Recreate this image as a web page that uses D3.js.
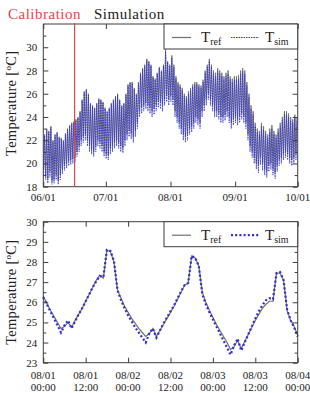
<!DOCTYPE html>
<html>
<head>
<meta charset="utf-8">
<script src="https://cdn.jsdelivr.net/npm/d3@7"></script>
<style>
  body { margin: 0; background: #fff; }
  svg { display: block; }
  svg text { font-family: "Liberation Serif", "DejaVu Serif", serif; }
</style>
</head>
<body>
<div id="chart"></div>
<script>
// top panel: daily min / max of the reference and simulated temperature, 06/01 .. 09/30
const refLow = [19.5,19.0,18.7,19.3,18.5,18.6,19.0,18.5,19.0,19.5,
  19.8,20.0,20.2,20.3,20.4,20.5,21.0,21.5,22.0,22.3,
  22.5,22.0,21.5,21.2,21.0,21.5,22.0,21.8,21.5,21.0,
  20.8,20.7,21.3,21.5,21.8,22.0,21.8,21.5,21.3,22.0,
  22.5,22.8,22.6,22.3,22.8,23.5,24.5,24.8,25.0,25.2,
  25.0,24.8,24.5,24.7,25.0,25.3,25.2,25.0,25.5,25.8,
  25.5,25.8,25.5,24.5,24.0,23.5,23.0,22.5,22.3,22.5,
  23.0,23.2,23.5,24.0,23.8,23.5,24.5,25.0,25.5,26.0,
  25.5,25.0,24.5,24.5,24.3,24.0,24.0,24.2,24.5,24.0,
  23.5,23.8,24.0,23.8,24.0,24.3,24.0,23.5,22.5,21.5,
  21.0,20.5,20.0,19.8,20.5,20.0,19.5,19.3,19.8,20.0,
  19.5,19.2,19.8,20.3,20.5,20.8,21.0,20.8,20.5,20.3,
  20.5,20.8];
const refHigh = [22.5,23.0,22.8,23.2,22.0,22.5,22.7,22.3,22.2,22.0,
  22.6,23.0,23.3,23.5,23.6,23.8,24.0,24.5,25.5,26.2,
  26.4,26.0,25.2,25.0,24.8,25.2,25.6,25.5,25.3,24.8,
  24.5,24.8,25.2,25.5,25.8,26.0,25.5,25.0,25.2,26.0,
  26.8,27.0,27.0,26.5,26.0,27.0,27.8,28.2,28.5,29.0,
  28.8,28.5,27.5,27.3,27.8,28.3,28.0,28.5,29.8,28.8,
  28.5,29.3,28.5,27.5,27.0,26.8,26.5,26.0,25.8,26.2,
  26.5,26.8,27.0,27.0,26.8,26.7,27.2,28.0,28.5,29.0,
  28.5,28.0,27.8,28.2,28.0,27.8,27.5,27.8,28.0,27.5,
  27.3,27.5,27.5,27.6,28.0,28.2,28.0,27.0,26.0,25.0,
  24.5,23.5,23.0,22.8,23.5,23.2,22.8,22.5,23.0,23.3,
  22.8,22.5,23.0,23.5,24.0,24.5,24.5,24.3,24.0,23.8,
  24.2,24.0];
const simLow = [19.0,18.6,18.3,18.8,18.2,18.3,18.6,18.2,18.6,19.1,
  19.4,19.6,19.8,19.9,20.0,20.1,20.6,21.0,21.5,21.8,
  22.0,21.5,21.0,20.8,20.6,21.0,21.5,21.3,21.0,20.6,
  20.4,20.3,20.8,21.0,21.3,21.5,21.3,21.0,20.9,21.5,
  22.0,22.3,22.1,21.8,22.3,23.0,24.0,24.3,24.5,24.7,
  24.5,24.3,24.0,24.2,24.5,24.8,24.7,24.5,25.0,25.3,
  25.0,25.3,25.0,24.0,23.5,23.0,22.5,22.0,21.8,22.0,
  22.5,22.7,23.0,23.5,23.3,23.0,24.0,24.5,25.0,25.5,
  25.0,24.5,24.0,24.0,23.8,23.5,23.5,23.7,24.0,23.5,
  23.0,23.3,23.5,23.3,23.5,23.8,23.5,23.0,22.0,21.0,
  20.5,20.0,19.5,19.2,19.9,19.4,19.0,18.8,19.3,19.5,
  19.0,18.7,19.3,19.8,20.0,20.3,20.5,20.3,20.0,19.8,
  20.0,20.3];
const simHigh = [22.4,22.9,22.7,23.1,21.9,22.4,22.6,22.2,22.1,21.9,
  22.5,22.9,23.2,23.4,23.5,23.7,23.9,24.4,25.4,26.1,
  26.3,25.9,25.1,24.9,24.7,25.1,25.5,25.4,25.2,24.7,
  24.4,24.7,25.1,25.4,25.7,25.9,25.4,24.9,25.1,25.9,
  26.7,26.9,26.9,26.4,25.9,26.9,27.7,28.1,28.4,28.9,
  28.7,28.4,27.4,27.2,27.7,28.2,27.9,28.4,29.6,28.7,
  28.4,29.1,28.3,27.3,26.8,26.6,26.3,25.8,25.6,26.0,
  26.3,26.6,26.8,26.8,26.6,26.5,27.0,27.8,28.3,28.8,
  28.3,27.7,27.5,27.9,27.7,27.5,27.2,27.5,27.7,27.2,
  27.0,27.2,27.2,27.3,27.7,27.9,27.7,26.7,25.7,24.7,
  24.2,23.2,22.7,22.5,23.2,22.9,22.5,22.2,22.7,23.0,
  22.5,22.2,22.7,23.2,23.7,24.2,24.2,24.0,23.7,23.5,
  23.9,23.7];

// bottom panel: hourly values, 08/01 00:00 .. 08/04 00:00
const refHourly = [26.3,25.95,25.6,25.3,25.0,24.7,24.8,25.0,24.75,25.1,
  25.4,25.7,26.05,26.4,26.75,27.1,27.35,27.2,28.6,28.5,
  28.0,26.6,26.2,25.8,25.5,25.2,24.95,24.7,24.5,24.3,
  24.45,24.7,24.3,24.6,24.9,25.2,25.5,25.8,26.15,26.5,
  26.85,26.95,28.3,28.2,27.8,26.5,26.0,25.6,25.25,24.9,
  24.6,24.3,24.0,23.65,23.8,24.1,23.7,24.05,24.4,24.75,
  25.1,25.4,25.7,25.9,26.05,26.05,27.45,27.45,27.1,25.6,
  25.1,24.8,24.35];
const simHourly = [26.25,25.9,25.55,25.2,24.85,24.5,24.85,25.1,24.7,25.05,
  25.4,25.7,26.05,26.4,26.75,27.05,27.3,27.25,28.6,28.55,
  28.05,26.6,26.1,25.7,25.35,25.05,24.75,24.5,24.25,24.0,
  24.45,24.7,24.25,24.6,24.95,25.25,25.55,25.85,26.2,26.55,
  26.85,26.95,28.3,28.2,27.8,26.4,25.9,25.5,25.15,24.8,
  24.45,24.1,23.75,23.4,23.85,24.2,23.6,24.0,24.4,24.8,
  25.2,25.55,25.85,26.1,26.2,26.15,27.45,27.5,27.1,25.65,
  25.1,24.75,24.3];

const topStart = new Date(Date.UTC(2011, 5, 1));
const topEnd = new Date(Date.UTC(2011, 9, 1));
const calibEnd = new Date(Date.UTC(2011, 5, 16));
const topYTicks = [18, 20, 22, 24, 26, 28, 30];
const botStart = new Date(Date.UTC(2011, 7, 1));
const botEnd = new Date(Date.UTC(2011, 7, 4));
const botYTicks = [23, 24, 25, 26, 27, 28, 29, 30];

const W = 310, H = 393;
const left = 43.3, right = 297.7;
const serif = '"Liberation Serif", "DejaVu Serif", serif';
const frameColor = '#3c3c3c';
const refColor = '#707070';
const simColor = '#2f2fd4';
const calibColor = '#e8434b';

const svg = d3.select('#chart').append('svg')
  .attr('width', W).attr('height', H)
  .attr('viewBox', `0 0 ${W} ${H}`)
  .attr('font-family', serif);

const DAY = 864e5, HOUR = 36e5;

// daily zig-zag: low in the early morning, high in the afternoon
function dailyPoints(lows, highs) {
  const pts = [];
  lows.forEach((lo, i) => {
    const t0 = topStart.getTime() + i * DAY;
    pts.push({ t: new Date(t0 + 4 * HOUR), v: lo });
    pts.push({ t: new Date(t0 + 15 * HOUR), v: highs[i] });
  });
  return pts;
}

function drawFrame(g, x, y, top, bottom, yMinor) {
  // ticks point inward on all four sides
  g.append('g').attr('transform', `translate(0,${bottom})`)
    .call(d3.axisBottom(x).tickValues(x.ticksVals).tickSize(-5).tickFormat(''))
    .call(a => a.select('.domain').remove());
  g.append('g').attr('transform', `translate(0,${top})`)
    .call(d3.axisTop(x).tickValues(x.ticksVals).tickSize(-5).tickFormat(''))
    .call(a => a.select('.domain').remove());
  g.append('g').attr('transform', `translate(${left},0)`)
    .call(d3.axisLeft(y).tickValues(yMinor).tickSize(-3).tickFormat(''))
    .call(a => a.select('.domain').remove());
  g.append('g').attr('transform', `translate(${right},0)`)
    .call(d3.axisRight(y).tickValues(yMinor).tickSize(-3).tickFormat(''))
    .call(a => a.select('.domain').remove());
  g.append('g').attr('transform', `translate(${left},0)`)
    .call(d3.axisLeft(y).tickValues(y.ticksVals).tickSize(-5).tickPadding(6).tickFormat(d3.format('d')))
    .call(a => a.select('.domain').remove())
    .attr('font-family', serif)
    .selectAll('text').attr('font-size', 11).attr('fill', '#222');
  g.append('g').attr('transform', `translate(${right},0)`)
    .call(d3.axisRight(y).tickValues(y.ticksVals).tickSize(-5).tickFormat(''))
    .call(a => a.select('.domain').remove());
  g.selectAll('.tick line').attr('stroke', frameColor);
  g.append('rect')
    .attr('x', left).attr('y', top)
    .attr('width', right - left).attr('height', bottom - top)
    .attr('fill', 'none').attr('stroke', frameColor).attr('stroke-width', 1);
}

function yLabel(cy) {
  const t = svg.append('text')
    .attr('transform', `translate(16,${cy}) rotate(-90)`)
    .attr('text-anchor', 'middle')
    .attr('font-size', 14.5).attr('letter-spacing', 0.3).attr('fill', '#222');
  t.append('tspan').text('Temperature [');
  t.append('tspan').attr('dy', -5).attr('font-size', 9).text('o');
  t.append('tspan').attr('dy', 5).text('C]');
}

function legend(top, dash, simWidth) {
  const g = svg.append('g');
  g.append('rect')
    .attr('x', 164).attr('y', top).attr('width', right - 164).attr('height', 25)
    .attr('fill', '#fff').attr('stroke', frameColor);
  const ly = top + 13.5;
  g.append('line').attr('x1', 172).attr('x2', 191).attr('y1', ly).attr('y2', ly)
    .attr('stroke', refColor).attr('stroke-width', 1.2);
  g.append('line').attr('x1', 231).attr('x2', 259).attr('y1', ly).attr('y2', ly)
    .attr('stroke', simColor).attr('stroke-width', simWidth).attr('stroke-dasharray', dash);
  const lab = (x, sub) => {
    const t = g.append('text').attr('x', x).attr('y', top + 18)
      .attr('font-size', 15).attr('fill', '#222');
    t.append('tspan').text('T');
    t.append('tspan').attr('dy', 3).attr('font-size', 10).text(sub);
  };
  lab(201, 'ref');
  lab(265, 'sim');
}

// ---------- top panel ----------
{
  const top = 24, bottom = 186.7;
  const x = d3.scaleUtc().domain([topStart, topEnd]).range([left, right]);
  x.ticksVals = d3.utcMonth.range(topStart, d3.utcDay.offset(topEnd, 1));
  const y = d3.scaleLinear().domain([18, 32]).range([bottom, top]);
  y.ticksVals = topYTicks;
  const g = svg.append('g');

  const line = d3.line().x(d => x(d.t)).y(d => y(d.v));
  g.append('path').datum(dailyPoints(refLow, refHigh))
    .attr('fill', 'none').attr('stroke', refColor).attr('stroke-width', 0.9)
    .attr('d', line);
  g.append('path').datum(dailyPoints(simLow, simHigh))
    .attr('fill', 'none').attr('stroke', simColor).attr('stroke-width', 0.9)
    .attr('stroke-dasharray', '1.5,1').attr('opacity', 0.9)
    .attr('d', line);

  drawFrame(g, x, y, top, bottom, d3.range(19, 32, 2));

  g.append('g').selectAll('text').data(x.ticksVals).join('text')
    .attr('x', d => x(d)).attr('y', 201)
    .attr('text-anchor', 'middle').attr('font-size', 11).attr('fill', '#222')
    .text(d3.utcFormat('%m/%d'));

  g.append('line')
    .attr('x1', x(calibEnd)).attr('x2', x(calibEnd))
    .attr('y1', top - 1).attr('y2', bottom)
    .attr('stroke', calibColor).attr('stroke-width', 1.2);

  svg.append('text').attr('x', 8).attr('y', 19)
    .attr('font-size', 15).attr('letter-spacing', 0.5).attr('fill', calibColor).text('Calibration');
  svg.append('text').attr('x', 94).attr('y', 19)
    .attr('font-size', 15).attr('letter-spacing', 0.5).attr('fill', '#222').text('Simulation');

  yLabel((top + bottom) / 2 - 2);
  legend(top, '1.5,1', 1);
}

// ---------- bottom panel ----------
{
  const top = 221.7, bottom = 362.7;
  const x = d3.scaleUtc().domain([botStart, botEnd]).range([left, right]);
  x.ticksVals = d3.utcHour.every(12).range(botStart, new Date(botEnd.getTime() + 1));
  const y = d3.scaleLinear().domain([23, 30]).range([bottom, top]);
  y.ticksVals = botYTicks;
  const g = svg.append('g');

  const line = d3.line()
    .x((d, i) => x(new Date(botStart.getTime() + i * HOUR)))
    .y(d => y(d));
  g.append('path').datum(refHourly)
    .attr('fill', 'none').attr('stroke', refColor).attr('stroke-width', 1.2)
    .attr('d', line);
  g.append('path').datum(simHourly)
    .attr('fill', 'none').attr('stroke', simColor).attr('stroke-width', 2.2)
    .attr('stroke-dasharray', '2,2.2')
    .attr('d', line);

  drawFrame(g, x, y, top, bottom, d3.range(23.5, 30, 1));

  const xl = g.append('g').selectAll('text').data(x.ticksVals).join('text')
    .attr('text-anchor', 'middle').attr('font-size', 11).attr('fill', '#222');
  xl.append('tspan').attr('x', d => x(d)).attr('y', 379).text(d3.utcFormat('%m/%d'));
  xl.append('tspan').attr('x', d => x(d)).attr('y', 391).text(d3.utcFormat('%H:%M'));

  yLabel((top + bottom) / 2);
  legend(top, '2,2.2', 2.2);
}
</script>
</body>
</html>
